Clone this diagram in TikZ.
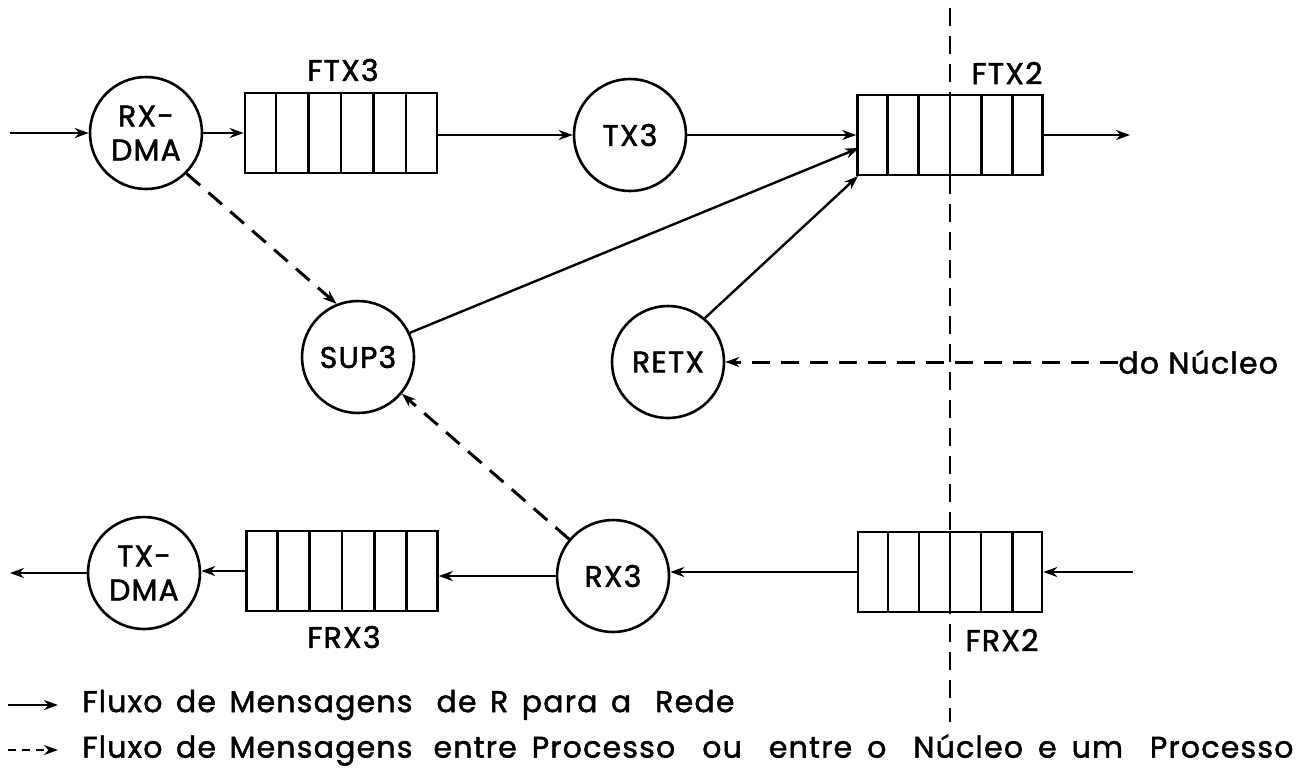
\documentclass[tikz,border=0pt]{standalone}
\usepackage{fontspec}
\setmainfont{Poppins}[FakeBold=1.6,LetterSpace=4]
\usetikzlibrary{arrows.meta,calc}
\begin{document}
\begin{tikzpicture}[x=0.5pt,y=-0.5pt,
  proc/.style={circle,draw,line width=1.3pt,minimum size=56pt,inner sep=0pt,align=center,font=\fontsize{15}{17}\selectfont},
  queue/.style={draw,fill=white,line width=1.3pt,minimum height=40pt,inner sep=0pt},
  lbl/.style={font=\fontsize{15}{17}\selectfont,inner sep=0pt},
  flow/.style={line width=1.2pt,-{Stealth[length=7pt,width=5pt]}},
  msg/.style={flow,line width=1.5pt,dash pattern=on 9pt off 5.5pt},
  divider/.style={dash pattern=on 9pt off 5pt,line width=1.4pt},
  legtext/.style={font=\fontsize{15}{17}\selectfont,anchor=west,inner sep=0pt}
]
\useasboundingbox (0,0) rectangle (1309,778);

% vertical boundary
\coordinate (vt) at (950,8);
\coordinate (vb) at (950,722);
\draw[divider] (vt) -- (vb);

% row 1
\node[proc] (rxdma) at (146,133) {RX-\\DMA};
\node[queue,minimum width=96pt] (ftx3) at (341,133) {};
\node[proc] (tx3) at (630,135) {TX3};
\node[queue,minimum width=92.5pt] (ftx2) at (950,135) {};
\node[lbl] (lftx3) at (343,70) {FTX3};
\node[lbl] (lftx2) at (1007,73) {FTX2};

% row 2
\node[proc] (sup3) at (358,357) {SUP3};
\node[proc] (retx) at (668,362) {RETX};
\node[lbl,anchor=west] (nucleo) at (1118,362) {do Núcleo};

% row 3
\node[proc] (txdma) at (144,573) {TX-\\DMA};
\node[queue,minimum width=95.5pt] (frx3) at (342,571) {};
\node[proc] (rx3) at (613,576) {RX3};
\node[queue,minimum width=92pt] (frx2) at (950,572) {};
\node[lbl] (lfrx3) at (344,637) {FRX3};
\node[lbl] (lfrx2) at (1002,640) {FRX2};

% queue cells
\foreach \q in {ftx3,ftx2,frx3,frx2}{
  \foreach \i in {1,...,5}{
    \draw[line width=1.3pt] ($(\q.north west)!\i/6!(\q.north east)$) -- ($(\q.south west)!\i/6!(\q.south east)$);
  }
}

% free ends
\coordinate (in1) at (10,133);
\coordinate (out1) at (1130,135);
\coordinate (in3) at (1133,572);
\coordinate (out3) at (10,573);
\coordinate (ftx2a) at (859,148);
\coordinate (ftx2b) at (858,176);

% solid flows
\draw[flow] (in1) -- (rxdma.west);
\draw[flow] (rxdma.east) -- (rxdma.east -| ftx3.west);
\draw[flow] (ftx3.east |- tx3.west) -- (tx3.west);
\draw[flow] (tx3.east) -- (tx3.east -| ftx2.west);
\draw[flow] (ftx2.east) -- (out1);
\draw[flow] (sup3.25) -- (ftx2a);
\draw[flow] (retx.50) -- (ftx2b);

\draw[flow] (in3) -- (frx2.east);
\draw[flow] (frx2.west) -- (frx2.west -| rx3.east);
\draw[flow] (rx3.west) -- (rx3.west -| frx3.east);
\draw[flow] (frx3.west) -- (frx3.west -| txdma.east);
\draw[flow] (txdma.west) -- (out3);

% dashed flows
\draw[msg] (rxdma.-45) -- (sup3.112);
\draw[msg] (rx3.140) -- (sup3.-40);
\draw[msg] (nucleo.west) -- (retx.east);

% legend
\coordinate (la1) at (8,705);
\coordinate (lb1) at (58,705);
\coordinate (la2) at (8,750);
\coordinate (lb2) at (58,750);
\draw[flow] (la1) -- (lb1);
\draw[flow,dash pattern=on 4pt off 3pt] (la2) -- (lb2);
\node[legtext] (leg1) at (82,705) {Fluxo\hspace{0.45em}de\hspace{0.45em}Mensagens\hspace{0.8em}de\hspace{0.45em}R\hspace{0.45em}para\hspace{0.45em}a\hspace{0.8em}Rede};
\node[legtext] (leg2) at (82,750) {Fluxo\hspace{0.45em}de\hspace{0.45em}Mensagens\hspace{0.7em}entre\hspace{0.5em}Processo\hspace{0.9em}ou\hspace{0.9em}entre\hspace{0.5em}o\hspace{0.9em}Núcleo\hspace{0.5em}e\hspace{0.5em}um\hspace{0.9em}Processo};
\end{tikzpicture}
\end{document}
